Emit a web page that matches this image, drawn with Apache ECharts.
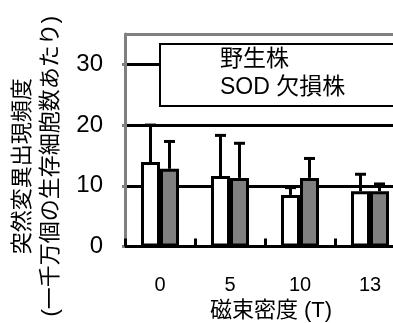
<!DOCTYPE html>
<html><head><meta charset="utf-8">
<script src="https://cdn.jsdelivr.net/npm/echarts@6/dist/echarts.min.js"></script>
<style>html,body{margin:0;padding:0;background:#fff}#c{width:393px;height:323px}</style>
</head><body><div id="c"></div>
<script>
var categories = ['0', '5', '10', '13'];
var seriesNames = ['野生株', 'SOD 欠損株'];
var wildValues = [13.9, 11.6, 8.5, 9.1];
var wildErrors = [6.1, 6.7, 1.2, 2.8];
var sodValues = [12.8, 11.3, 11.3, 9.1];
var sodErrors = [4.5, 5.7, 3.2, 1.2];
var yTicks = [0, 10, 20, 30];

var FONT = '"Liberation Sans", "Noto Sans CJK JP", sans-serif';
var BAR_W = 19;

function errSeries(values, errors, offset) {
  var data = values.map(function (v, i) { return [i, v, v + errors[i]]; });
  return {
    type: 'custom', z: 5, silent: true,
    data: data,
    renderItem: function (params, api) {
      var i = api.value(0);
      var base = api.coord([i, api.value(1)]);
      var top = api.coord([i, api.value(2)]);
      var x = base[0] + offset;
      var half = 5.5;
      return {
        type: 'group',
        children: [
          { type: 'line', shape: { x1: x, y1: base[1], x2: x, y2: top[1] }, style: { stroke: '#000', lineWidth: 3 } },
          { type: 'line', shape: { x1: x - half, y1: top[1], x2: x + half, y2: top[1] }, style: { stroke: '#000', lineWidth: 3 } }
        ]
      };
    }
  };
}

var chart = echarts.init(document.getElementById('c'));
chart.setOption({
  animation: false,
  backgroundColor: '#fff',
  grid: { left: 125, right: -12, top: 34, bottom: 76.5, containLabel: false, outerBoundsMode: 'none' },
  legend: {
    data: seriesNames,
    orient: 'vertical',
    left: 160, top: 44,
    padding: [4, 250, 6, 55],
    itemGap: 4,
    itemWidth: 0, itemHeight: 0,
    itemStyle: { opacity: 0, borderWidth: 0 },
    backgroundColor: '#fff',
    borderColor: '#000', borderWidth: 2,
    textStyle: { fontSize: 23, fontFamily: FONT, color: '#000', lineHeight: 24 },
    selectedMode: false
  },
  xAxis: {
    type: 'category', data: categories,
    axisLine: { lineStyle: { color: '#000', width: 3 } },
    axisTick: { show: true, inside: true, length: 8, lineStyle: { color: '#000', width: 3 } },
    axisLabel: { fontSize: 20, fontFamily: FONT, color: '#000', margin: 29 },
    name: '磁束密度 (T)', nameLocation: 'middle', nameGap: 50,
    nameTextStyle: { fontSize: 22, fontFamily: FONT, color: '#000', padding: [0, 0, 0, 12] }
  },
  yAxis: {
    type: 'value', min: 0, max: 35, interval: 10,
    axisLine: { show: true, lineStyle: { color: '#808080', width: 3 } },
    axisTick: { show: true, length: 3, lineStyle: { color: '#808080', width: 3 } },
    axisLabel: { fontSize: 24, fontFamily: FONT, color: '#000', margin: 22, showMaxLabel: false,
      formatter: function (v) { return yTicks.indexOf(v) >= 0 ? String(v) : ''; } },
    splitLine: { show: true, lineStyle: { color: ['#000', '#000', '#000', '#000', '#808080'], width: 3 } },
    name: '突然変異出現頻度\n(一千万個の生存細胞数あたり)', nameLocation: 'middle', nameRotate: 90, nameGap: 60,
    nameTextStyle: { fontSize: 22, fontFamily: FONT, color: '#000', lineHeight: 28, padding: [0, 52, 0, 0] }
  },
  series: [
    { name: seriesNames[0], type: 'bar', data: wildValues, barWidth: BAR_W, barGap: '0%', z: 3,
      itemStyle: { color: '#fff', borderColor: '#000', borderWidth: 3 } },
    { name: seriesNames[1], type: 'bar', data: sodValues, barWidth: BAR_W, barGap: '0%', z: 3,
      itemStyle: { color: '#808080', borderColor: '#000', borderWidth: 3 } },
    errSeries(wildValues, wildErrors, -BAR_W / 2),
    errSeries(sodValues, sodErrors, BAR_W / 2)
  ]
});
</script></body></html>
